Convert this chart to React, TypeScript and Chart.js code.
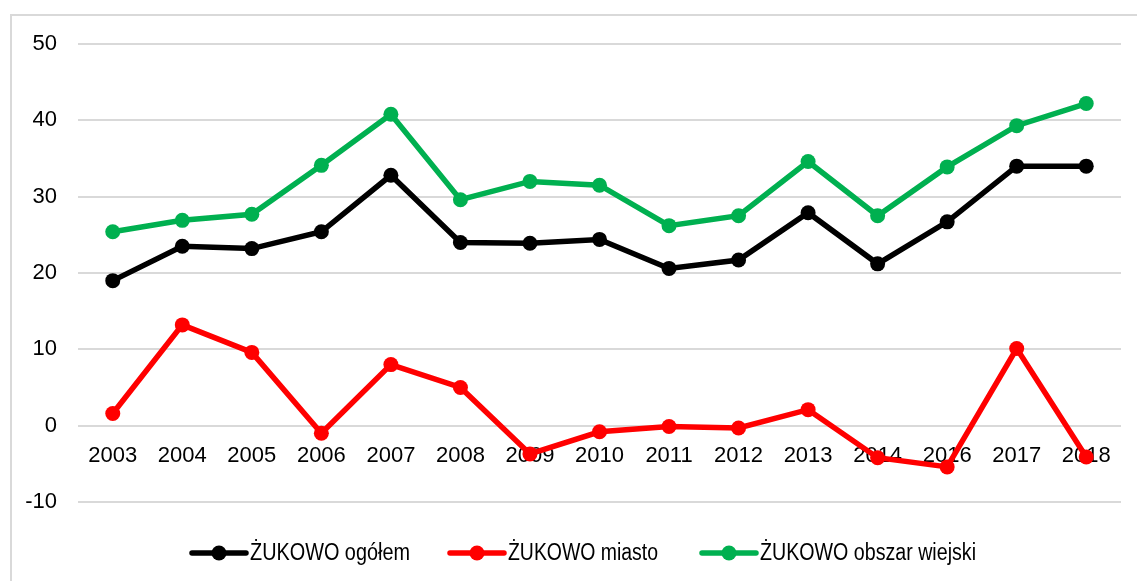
import React, { useEffect, useRef } from "react";
import { Chart, registerables } from "chart.js";

Chart.register(...registerables);

const years = ["2003", "2004", "2005", "2006", "2007", "2008", "2009", "2010", "2011", "2012", "2013", "2014", "2016", "2017", "2018"];
const ogolem = [19.0, 23.5, 23.2, 25.4, 32.8, 24.0, 23.9, 24.4, 20.6, 21.7, 27.9, 21.2, 26.7, 34.0, 34.0];
const miasto = [1.6, 13.2, 9.6, -1.0, 8.0, 5.0, -3.7, -0.8, -0.1, -0.3, 2.1, -4.2, -5.4, 10.1, -4.1];
const wiejski = [25.4, 26.9, 27.7, 34.1, 40.8, 29.6, 32.0, 31.5, 26.2, 27.5, 34.6, 27.5, 33.9, 39.3, 42.2];
const seriesNames = ["ŻUKOWO ogółem", "ŻUKOWO miasto", "ŻUKOWO obszar wiejski"];
const seriesColors = ["#000000", "#FF0000", "#00B050"];

const FONT = "'Liberation Sans', Arial, sans-serif";
const FONT_SIZE = 22;

const legendPlugin = {
  id: "customLegend",
  afterDraw(chart: any) {
    const ctx = chart.ctx;
    const y = 553;
    const starts = [192, 450, 702];
    const textWidths = [160, 150, 216];
    ctx.save();
    ctx.font = `23px ${FONT}`;
    ctx.textBaseline = "middle";
    ctx.textAlign = "left";
    chart.data.datasets.forEach((ds: any, i: number) => {
      const x0 = starts[i];
      ctx.strokeStyle = ds.borderColor;
      ctx.lineWidth = 5.5;
      ctx.lineCap = "round";
      ctx.beginPath();
      ctx.moveTo(x0, y);
      ctx.lineTo(x0 + 54, y);
      ctx.stroke();
      ctx.fillStyle = ds.borderColor;
      ctx.beginPath();
      ctx.arc(x0 + 27, y, 7.5, 0, Math.PI * 2);
      ctx.fill();
      ctx.fillStyle = "#000";
      ctx.fillText(ds.label, x0 + 58, y + 1, textWidths[i]);
    });
    ctx.restore();
  },
};

export default function App() {
  const ref = useRef<HTMLCanvasElement>(null);
  useEffect(() => {
    if (!ref.current) return;
    const data = [ogolem, miasto, wiejski];
    const chart = new Chart(ref.current, {
      type: "line",
      data: {
        labels: years,
        datasets: data.map((d, i) => ({
          label: seriesNames[i],
          data: d,
          borderColor: seriesColors[i],
          backgroundColor: seriesColors[i],
          borderWidth: 5.5,
          pointRadius: 7.5,
          pointBorderWidth: 0,
          pointBackgroundColor: seriesColors[i],
          tension: 0,
          fill: false,
        })),
      },
      options: {
        animation: false,
        responsive: false,
        maintainAspectRatio: false,
        layout: { padding: { left: 0, right: 16, top: 44, bottom: 79 } },
        plugins: {
          legend: { display: false },
          tooltip: { enabled: false },
        },
        scales: {
          x: {
            type: "category",
            position: { y: 0 } as any,
            offset: true,
            grid: { display: false, drawTicks: false },
            border: { display: false },
            ticks: {
              color: "#000",
              font: { family: FONT, size: FONT_SIZE },
              padding: 17,
              maxRotation: 0,
              autoSkip: false,
            },
          },
          y: {
            min: -10,
            max: 50,
            afterFit: (scale: any) => {
              scale.width = 78;
            },
            grid: { color: "#d9d9d9", lineWidth: 2, drawTicks: false },
            border: { display: false },
            ticks: {
              stepSize: 10,
              color: "#000",
              font: { family: FONT, size: FONT_SIZE },
              padding: 21,
            },
          },
        },
      },
      plugins: [legendPlugin],
    });
    return () => chart.destroy();
  }, []);

  return (
    <div style={{ position: "absolute", left: 0, top: 0, width: 1137, height: 581, overflow: "hidden", background: "#fff" }}>
      <div
        style={{
          position: "absolute",
          left: 10,
          top: 14,
          width: 1200,
          height: 700,
          border: "2px solid #d9d9d9",
          boxSizing: "border-box",
        }}
      />
      <canvas ref={ref} width={1137} height={581} style={{ position: "absolute", left: 0, top: 0 }} />
    </div>
  );
}
